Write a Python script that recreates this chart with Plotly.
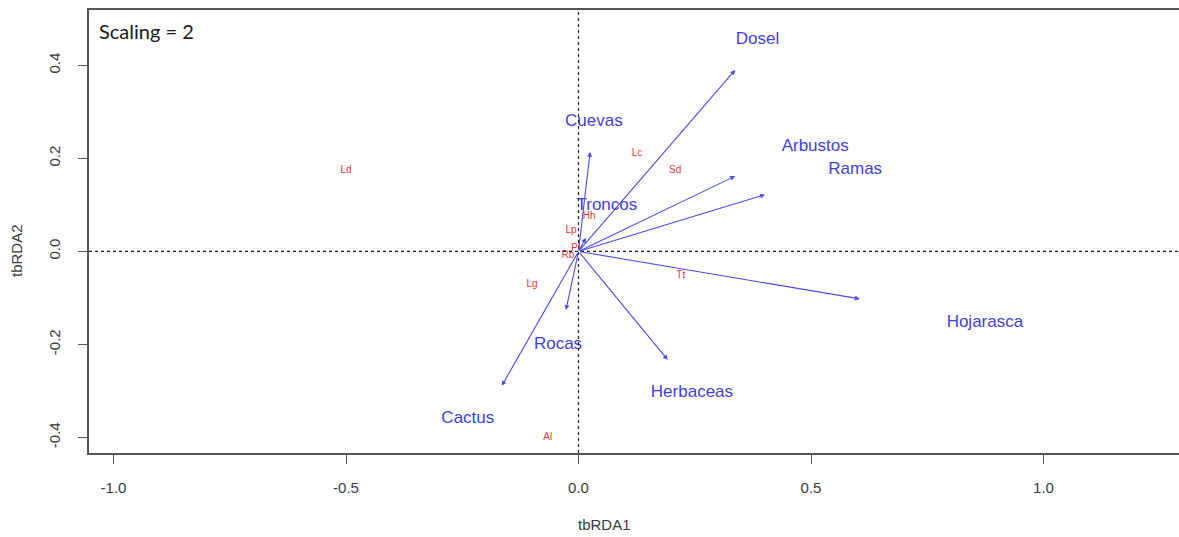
import plotly.graph_objects as go

# Environmental vectors (biplot arrows)
env_names = ["Dosel", "Cuevas", "Arbustos", "Ramas", "Troncos",
             "Hojarasca", "Herbaceas", "Rocas", "Cactus"]
env_x = [0.337, 0.025, 0.337, 0.401, 0.016, 0.605, 0.192, -0.027, -0.165]
env_y = [0.390, 0.214, 0.162, 0.122, 0.029, -0.102, -0.233, -0.126, -0.289]
env_label_x = [0.385, 0.033, 0.509, 0.595, 0.061, 0.874, 0.244, -0.044, -0.238]
env_label_y = [0.455, 0.279, 0.225, 0.175, 0.098, -0.154, -0.304, -0.201, -0.360]

# Species / site scores (red labels)
sp_names = ["Ld", "Lc", "Sd", "Hh", "Lp", "Pl", "Rb", "Lg", "Tt", "Al"]
sp_x = [-0.500, 0.126, 0.208, 0.023, -0.016, -0.006, -0.023, -0.100, 0.220, -0.066]
sp_y = [0.173, 0.210, 0.173, 0.076, 0.046, 0.006, -0.008, -0.070, -0.051, -0.401]

x_ticks = [-1.0, -0.5, 0.0, 0.5, 1.0]
y_ticks = [-0.4, -0.2, 0.0, 0.2, 0.4]

BLUE = "#3f3fe8"
ARROW = "#4b4bee"
RED = "#f03434"
AXC = "#555555"
TXT = "#3a3a3a"

fig = go.Figure()

# species labels
fig.add_trace(go.Scatter(
    x=sp_x, y=sp_y, mode="text", text=sp_names,
    textfont=dict(family="Liberation Sans, Arial", size=10, color=RED),
    hoverinfo="text", showlegend=False))

# env labels
fig.add_trace(go.Scatter(
    x=env_label_x, y=env_label_y, mode="text", text=env_names,
    textfont=dict(family="Liberation Sans, Arial", size=17, color=BLUE),
    hoverinfo="text", showlegend=False))

annotations = []
for xe, ye in zip(env_x, env_y):
    annotations.append(dict(
        x=xe, y=ye, ax=0, ay=0, xref="x", yref="y", axref="x", ayref="y",
        showarrow=True, arrowhead=2, arrowsize=0.9, arrowwidth=1.1,
        arrowcolor=ARROW, text=""))

annotations.append(dict(
    x=0.007, y=0.953, xref="paper", yref="paper", xanchor="left", yanchor="middle",
    text="Scaling = 2", showarrow=False,
    font=dict(family="Lato, Open Sans, sans-serif", size=20, color="#1a1a1a")))
annotations.append(dict(
    x=(604 - 89) / 1090, y=(453 - 524) / 443, xref="paper", yref="paper",
    text="tbRDA1", showarrow=False, xanchor="center", yanchor="middle",
    font=dict(family="Liberation Sans, Arial", size=15, color=TXT)))
annotations.append(dict(
    x=(16 - 89) / 1090, y=(453 - 251) / 443, xref="paper", yref="paper",
    text="tbRDA2", showarrow=False, textangle=-90, xanchor="center", yanchor="middle",
    font=dict(family="Liberation Sans, Arial", size=15, color=TXT)))

fig.update_layout(
    width=1179, height=537,
    margin=dict(l=89, r=0, t=10, b=84),
    paper_bgcolor="white", plot_bgcolor="white",
    annotations=annotations,
    shapes=[
        dict(type="line", xref="x", yref="paper", x0=0, x1=0, y0=0, y1=1,
             line=dict(color="#222222", width=1.2, dash="dot")),
        dict(type="line", xref="paper", yref="y", x0=0, x1=1, y0=0, y1=0,
             line=dict(color="#222222", width=1.2, dash="dot")),
    ],
    xaxis=dict(range=[-1.0527, 1.2914], tickvals=x_ticks,
               ticktext=[f"{v:.1f}" for v in x_ticks],
               showgrid=False, zeroline=False, showline=True, mirror=True,
               linecolor=AXC, linewidth=1.5, ticks="outside", ticklen=9,
               tickcolor=AXC, tickwidth=1.2, ticklabelstandoff=11,
               tickfont=dict(family="Liberation Sans, Arial", size=15, color=TXT)),
    yaxis=dict(range=[-0.4333, 0.519], tickvals=y_ticks,
               ticktext=[f"{v:.1f}" for v in y_ticks],
               showgrid=False, zeroline=False, showline=True, mirror=False,
               linecolor=AXC, linewidth=1.5, ticks="outside", ticklen=9,
               tickcolor=AXC, tickwidth=1.2, tickangle=-90, ticklabelstandoff=12,
               tickfont=dict(family="Liberation Sans, Arial", size=15, color=TXT)),
)

fig.write_html("out.html")
